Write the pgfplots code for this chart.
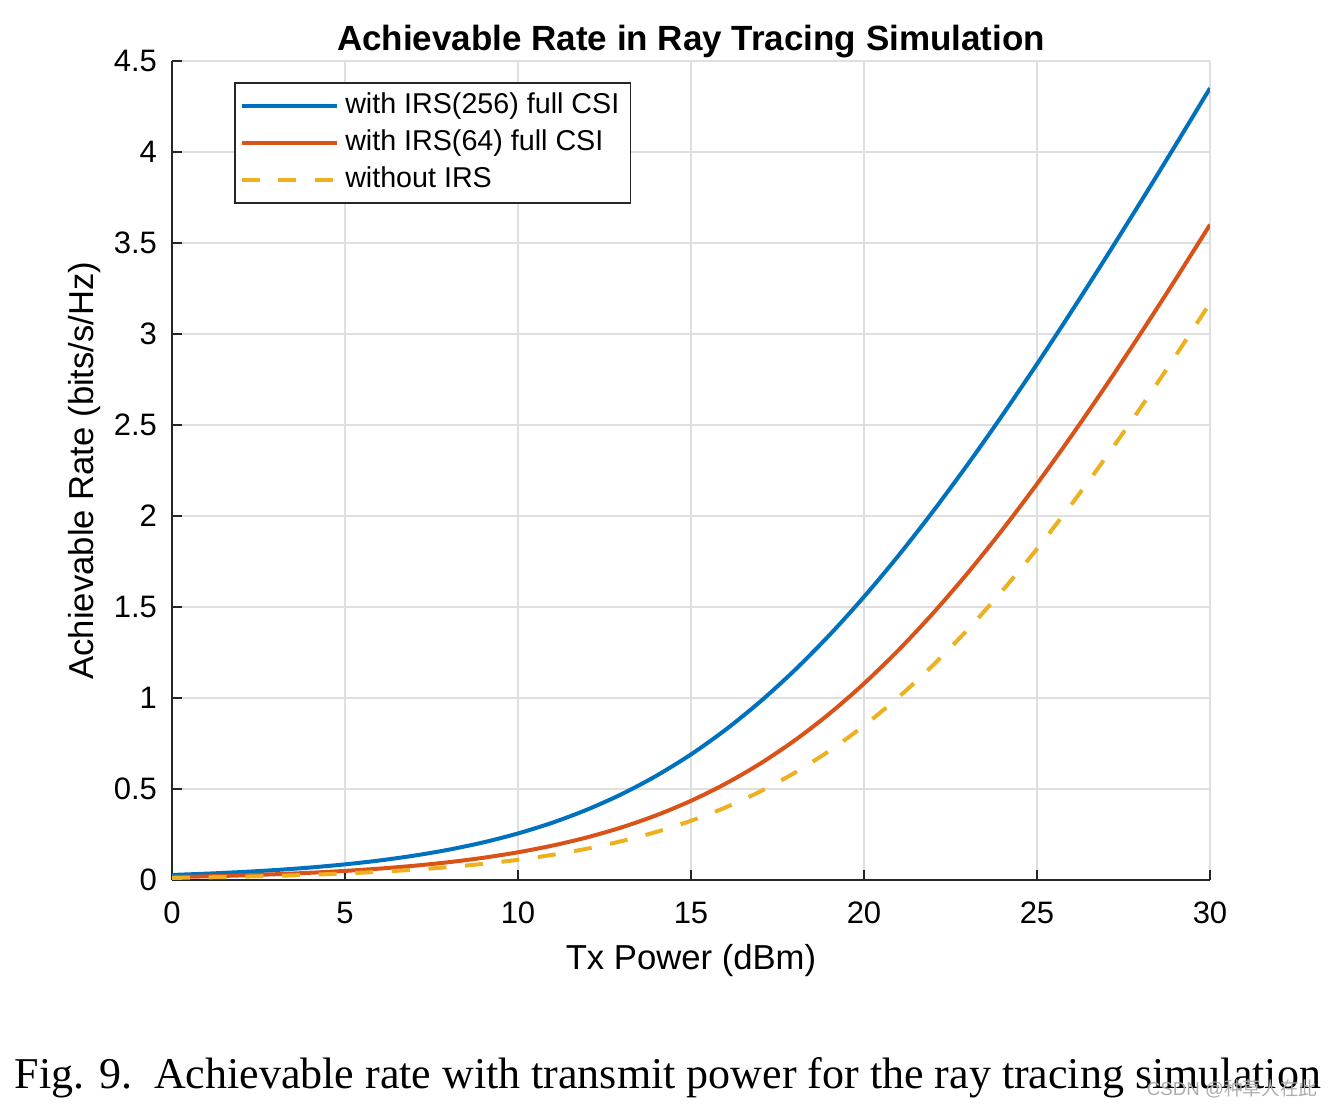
\documentclass[border=0pt]{standalone}
\usepackage{pgfplots}
\pgfplotsset{compat=1.18}
\usepackage{fontspec}
\setmainfont{Liberation Sans}
\newfontfamily\capfont{Liberation Serif}
\newfontfamily\cjk{Noto Sans CJK SC}
\definecolor{mblue}{rgb}{0,0.447,0.741}
\definecolor{morange}{rgb}{0.850,0.325,0.098}
\definecolor{myellow}{rgb}{0.929,0.694,0.125}
\definecolor{axgray}{rgb}{0.15,0.15,0.15}
\begin{document}
\begin{tikzpicture}[x=0.3pt,y=0.3pt]
\path[use as bounding box] (-172,-229) rectangle (1161,880);
\begin{axis}[
  at={(0,0)}, anchor=south west,
  scale only axis, width=311.4pt, height=245.7pt,
  xmin=0, xmax=30, ymin=0, ymax=4.5,
  xtick={0,5,...,30}, ytick={0,0.5,...,4.5},
  yticklabels={0,0.5,1,1.5,2,2.5,3,3.5,4,4.5},
  axis x line*=bottom, axis y line*=left,
  axis line style={axgray, line width=0.4pt},
  tick style={axgray, line width=0.4pt},
  tick align=inside, major tick length=3pt,
  grid=major, major grid style={gray!25, line width=0.4pt},
  /pgf/number format/assume math mode=true,
  tick label style={font=\fontsize{9.3}{10}\selectfont, text=black},
  xticklabel style={yshift=-3pt},
  yticklabel style={xshift=-1pt},
  title={\textbf{Achievable Rate in Ray Tracing Simulation}},
  title style={font=\fontsize{10.5}{12}\selectfont, at={(axis description cs:0.5,1)}, anchor=base, yshift=-2.7pt},
  xlabel={Tx Power (dBm)},
  ylabel={Achievable Rate (bits/s/Hz)},
  label style={font=\fontsize{10.4}{12}\selectfont},
  xlabel style={at={(axis description cs:0.5,-0.098)}, anchor=center},
  ylabel style={at={(axis description cs:-0.0838,0.5)}, anchor=center, rotate=0},
  legend style={at={(axis description cs:0.06,0.974)}, anchor=north west,
    draw=axgray, line width=0.4pt, font=\fontsize{8.6}{10}\selectfont,
    row sep=-0.6pt, inner xsep=1.4pt, inner ysep=1pt, yshift=0pt},
  legend cell align=left,
  legend image code/.code={\draw[#1] (0pt,0pt) -- (28.5pt,0pt);},
]
\addplot[mblue, line width=1.2pt, smooth] coordinates {
(0,0.0277)(1,0.0348)(2,0.0437)(3,0.0548)(4,0.0686)(5,0.0859)(6,0.1073)(7,0.1339)(8,0.1666)(9,0.2068)
(10,0.2558)(11,0.3153)(12,0.3868)(13,0.4721)(14,0.5727)(15,0.6902)(16,0.8257)(17,0.9800)(18,1.1532)(19,1.3455)
(20,1.5559)(21,1.7834)(22,2.0268)(23,2.2843)(24,2.5542)(25,2.8350)(26,3.1250)(27,3.4228)(28,3.7271)(29,4.0367)(30,4.3507)};
\addlegendentry{with IRS(256) full CSI}
\addplot[morange, line width=1.2pt, smooth] coordinates {
(0,0.0160)(1,0.0201)(2,0.0252)(3,0.0317)(4,0.0398)(5,0.0499)(6,0.0626)(7,0.0783)(8,0.0979)(9,0.1222)
(10,0.1523)(11,0.1892)(12,0.2344)(13,0.2894)(14,0.3557)(15,0.4351)(16,0.5292)(17,0.6395)(18,0.7675)(19,0.9139)
(20,1.0793)(21,1.2638)(22,1.4668)(23,1.6875)(24,1.9244)(25,2.1763)(26,2.4413)(27,2.7178)(28,3.0042)(29,3.2989)(30,3.6006)};
\addlegendentry{with IRS(64) full CSI}
\addplot[myellow, line width=1.2pt, smooth, dash pattern=on 5.4pt off 5.6pt] coordinates {
(0,0.0115)(1,0.0145)(2,0.0182)(3,0.0228)(4,0.0287)(5,0.0360)(6,0.0452)(7,0.0567)(8,0.0710)(9,0.0889)
(10,0.1110)(11,0.1384)(12,0.1722)(13,0.2137)(14,0.2642)(15,0.3254)(16,0.3989)(17,0.4864)(18,0.5895)(19,0.7097)
(20,0.8480)(21,1.0051)(22,1.1814)(23,1.3765)(24,1.5896)(25,1.8197)(26,2.0653)(27,2.3248)(28,2.5965)(29,2.8788)(30,3.1699)};
\addlegendentry{without IRS}
\end{axis}
\node[anchor=base west, inner sep=0pt, font=\capfont\fontsize{13.2}{15}\selectfont] at (-158,-208) {Fig. 9.\ \ Achievable rate with transmit power for the ray tracing simulation};
\node[anchor=east, inner sep=0pt, text=gray!65, font=\fontsize{5.6}{6}\selectfont] at (1146,-209) {CSDN @{\cjk 种草人在此}};
\end{tikzpicture}
\end{document}
